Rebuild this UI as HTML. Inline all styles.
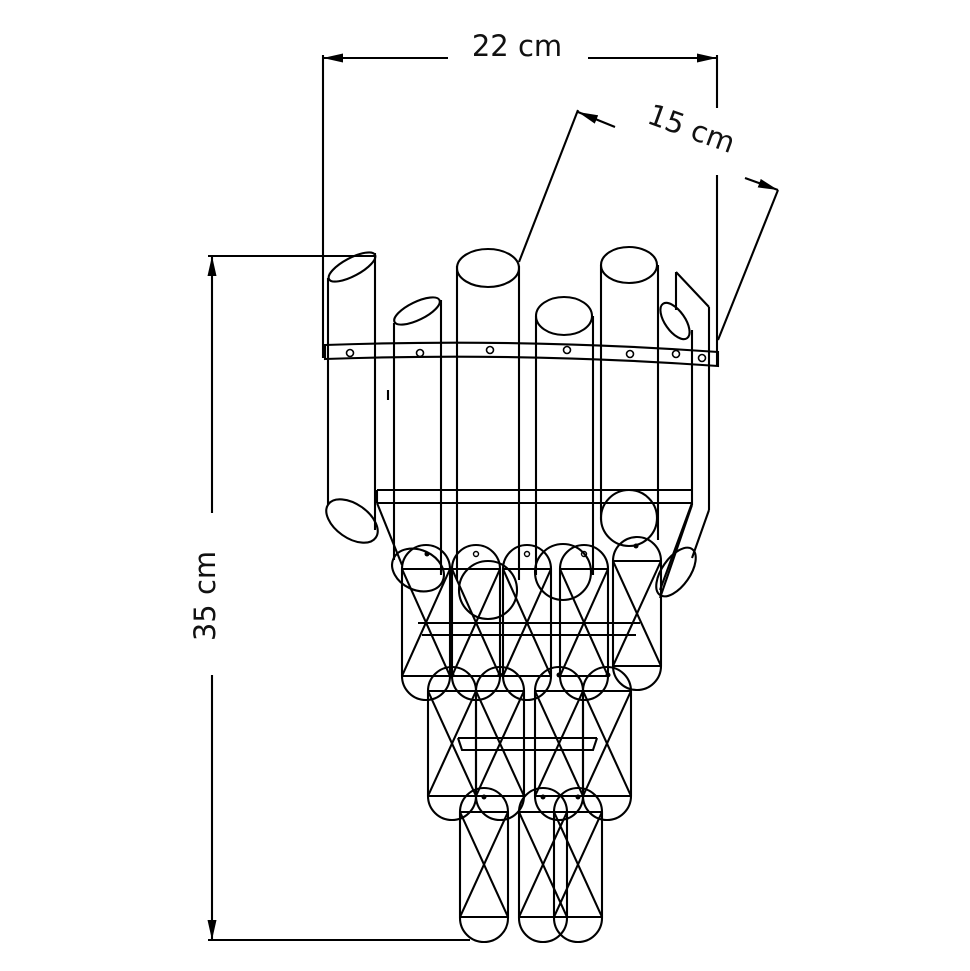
<!DOCTYPE html>
<html><head><meta charset="utf-8"><style>html,body{margin:0;padding:0;background:#fff}svg{display:block}</style></head>
<body>
<svg width="970" height="971" viewBox="0 0 970 971" xmlns="http://www.w3.org/2000/svg">
<defs>
<marker id="ar" viewBox="0 0 10 10" refX="10" refY="5" markerWidth="20" markerHeight="9" markerUnits="userSpaceOnUse" orient="auto-start-reverse" preserveAspectRatio="none"><path d="M0,0 L10,5 L0,10 z" fill="#000"/></marker>
</defs>
<g stroke="#000" stroke-width="2.1" fill="none">
<!-- dimension 22 cm -->
<line x1="323" y1="58" x2="448" y2="58" marker-start="url(#ar)"/>
<line x1="588" y1="58" x2="717" y2="58" marker-end="url(#ar)"/>
<line x1="323" y1="55" x2="323" y2="358"/>
<line x1="717" y1="55" x2="717" y2="108"/>
<line x1="717" y1="175" x2="717" y2="365"/>
<!-- 35 cm -->
<line x1="212" y1="256" x2="212" y2="513" marker-start="url(#ar)"/>
<line x1="212" y1="675" x2="212" y2="940" marker-end="url(#ar)"/>
<line x1="208" y1="256" x2="375" y2="256"/>
<line x1="208" y1="940" x2="470" y2="940"/>
<!-- 15 cm -->
<line x1="578" y1="110" x2="519" y2="262"/>
<line x1="778" y1="190" x2="718" y2="340"/>
<line x1="615" y1="127" x2="578" y2="112" marker-end="url(#ar)"/>
<line x1="745" y1="178" x2="778" y2="190" marker-end="url(#ar)"/>

<!-- band -->
<path d="M325,345 Q520,338 718,352 L718,366 Q520,352 325,359 Z"/>
<g stroke-width="1.6">
<circle cx="350" cy="353" r="3.5"/><circle cx="420" cy="353" r="3.5"/><circle cx="490" cy="350" r="3.5"/><circle cx="567" cy="350" r="3.5"/><circle cx="630" cy="354" r="3.5"/><circle cx="676" cy="354" r="3.5"/><circle cx="702" cy="358" r="3.5"/>
</g>
<!-- tube 1 -->
<line x1="328" y1="278" x2="328" y2="505"/><line x1="375" y1="253" x2="375" y2="530"/>
<ellipse cx="352" cy="267" rx="26" ry="9" transform="rotate(-28 352 267)"/>
<ellipse cx="352" cy="521" rx="29" ry="17" transform="rotate(35 352 521)"/>
<line x1="388" y1="390" x2="388" y2="400"/>
<!-- tube 2 -->
<line x1="394" y1="323" x2="394" y2="560"/><line x1="441" y1="300" x2="441" y2="575"/>
<ellipse cx="417" cy="311" rx="25" ry="9" transform="rotate(-26 417 311)"/>
<!-- tube 3 -->
<line x1="457" y1="266" x2="457" y2="580"/><line x1="519" y1="266" x2="519" y2="580"/>
<ellipse cx="488" cy="268" rx="31" ry="19"/>
<!-- tube 4 -->
<line x1="536" y1="316" x2="536" y2="575"/><line x1="593" y1="316" x2="593" y2="575"/>
<ellipse cx="564" cy="316" rx="28" ry="19"/>
<!-- tube 5 -->
<line x1="601" y1="265" x2="601" y2="520"/><line x1="658" y1="265" x2="658" y2="540"/>
<ellipse cx="629" cy="265" rx="28" ry="18"/>
<circle cx="629" cy="518" r="28"/>
<!-- tube 6 -->
<line x1="676" y1="272" x2="709" y2="307"/>
<line x1="676" y1="272" x2="676" y2="310"/>
<line x1="709" y1="307" x2="709" y2="510"/>
<line x1="692" y1="330" x2="692" y2="505"/>
<ellipse cx="675" cy="321" rx="10" ry="21" transform="rotate(-35 675 321)"/>
<line x1="709" y1="510" x2="692" y2="558"/>
<line x1="692" y1="505" x2="660" y2="598"/>
<ellipse cx="676" cy="572" rx="14" ry="28" transform="rotate(35 676 572)"/>
<!-- frame -->
<line x1="377" y1="490" x2="692" y2="490"/><line x1="377" y1="503" x2="692" y2="503"/>
<line x1="377" y1="490" x2="377" y2="503"/>
<line x1="377" y1="503" x2="402" y2="565"/>
<line x1="692" y1="503" x2="660" y2="590"/>
<line x1="418" y1="623" x2="640" y2="623"/><line x1="422" y1="635" x2="636" y2="635"/>
<line x1="458" y1="738" x2="597" y2="738"/><path d="M458,738 L462,750 L593,750 L597,738"/>

<!-- row1 -->
<g>
<rect x="402" y="545" width="48" height="155" rx="24"/><line x1="402" y1="569" x2="450" y2="569"/><line x1="402" y1="676" x2="450" y2="676"/><line x1="402" y1="569" x2="450" y2="676"/><line x1="450" y1="569" x2="402" y2="676"/>
<rect x="452" y="545" width="48" height="155" rx="24"/><line x1="452" y1="569" x2="500" y2="569"/><line x1="452" y1="676" x2="500" y2="676"/><line x1="452" y1="569" x2="500" y2="676"/><line x1="500" y1="569" x2="452" y2="676"/>
<rect x="503" y="545" width="48" height="155" rx="24"/><line x1="503" y1="569" x2="551" y2="569"/><line x1="503" y1="676" x2="551" y2="676"/><line x1="503" y1="569" x2="551" y2="676"/><line x1="551" y1="569" x2="503" y2="676"/>
<rect x="560" y="545" width="48" height="155" rx="24"/><line x1="560" y1="569" x2="608" y2="569"/><line x1="560" y1="676" x2="608" y2="676"/><line x1="560" y1="569" x2="608" y2="676"/><line x1="608" y1="569" x2="560" y2="676"/>
<rect x="613" y="537" width="48" height="153" rx="24"/><line x1="613" y1="561" x2="661" y2="561"/><line x1="613" y1="666" x2="661" y2="666"/><line x1="613" y1="561" x2="661" y2="666"/><line x1="661" y1="561" x2="613" y2="666"/>
<ellipse cx="418" cy="570" rx="27" ry="20" transform="rotate(25 418 570)"/>
<circle cx="488" cy="590" r="29"/>
<circle cx="563" cy="572" r="28"/>
</g>
<!-- row2 -->
<g>
<rect x="428" y="667" width="48" height="153" rx="24"/><line x1="428" y1="691" x2="476" y2="691"/><line x1="428" y1="796" x2="476" y2="796"/><line x1="428" y1="691" x2="476" y2="796"/><line x1="476" y1="691" x2="428" y2="796"/>
<rect x="476" y="667" width="48" height="153" rx="24"/><line x1="476" y1="691" x2="524" y2="691"/><line x1="476" y1="796" x2="524" y2="796"/><line x1="476" y1="691" x2="524" y2="796"/><line x1="524" y1="691" x2="476" y2="796"/>
<rect x="535" y="667" width="48" height="153" rx="24"/><line x1="535" y1="691" x2="583" y2="691"/><line x1="535" y1="796" x2="583" y2="796"/><line x1="535" y1="691" x2="583" y2="796"/><line x1="583" y1="691" x2="535" y2="796"/>
<rect x="583" y="667" width="48" height="153" rx="24"/><line x1="583" y1="691" x2="631" y2="691"/><line x1="583" y1="796" x2="631" y2="796"/><line x1="583" y1="691" x2="631" y2="796"/><line x1="631" y1="691" x2="583" y2="796"/>
</g>
<!-- row3 -->
<g>
<rect x="460" y="788" width="48" height="154" rx="24"/><line x1="460" y1="812" x2="508" y2="812"/><line x1="460" y1="917" x2="508" y2="917"/><line x1="460" y1="812" x2="508" y2="917"/><line x1="508" y1="812" x2="460" y2="917"/>
<rect x="519" y="788" width="48" height="154" rx="24"/><line x1="519" y1="812" x2="567" y2="812"/><line x1="519" y1="917" x2="567" y2="917"/><line x1="519" y1="812" x2="567" y2="917"/><line x1="567" y1="812" x2="519" y2="917"/>
<rect x="554" y="788" width="48" height="154" rx="24"/><line x1="554" y1="812" x2="602" y2="812"/><line x1="554" y1="917" x2="602" y2="917"/><line x1="554" y1="812" x2="602" y2="917"/><line x1="602" y1="812" x2="554" y2="917"/>
</g>
</g>
<g fill="#000">
<circle cx="427" cy="554" r="2.5"/><circle cx="636" cy="546" r="2.5"/>
<circle cx="452" cy="675" r="2.5"/><circle cx="500" cy="675" r="2.5"/><circle cx="559" cy="675" r="2.5"/><circle cx="608" cy="675" r="2.5"/>
<circle cx="484" cy="797" r="2.5"/><circle cx="543" cy="797" r="2.5"/><circle cx="578" cy="797" r="2.5"/>
</g>
<g fill="none" stroke="#000" stroke-width="1.4">
<circle cx="476" cy="554" r="2.5"/><circle cx="527" cy="554" r="2.5"/><circle cx="584" cy="554" r="2.5"/>
</g>
<g font-family="'DejaVu Sans','Liberation Sans',sans-serif" font-size="29" fill="#111">
<text x="517" y="56" text-anchor="middle">22 cm</text>
<text transform="translate(215,596) rotate(-90)" text-anchor="middle">35 cm</text>
<text transform="translate(688,138) rotate(20)" text-anchor="middle">15 cm</text>
</g>
</svg>
</body></html>
